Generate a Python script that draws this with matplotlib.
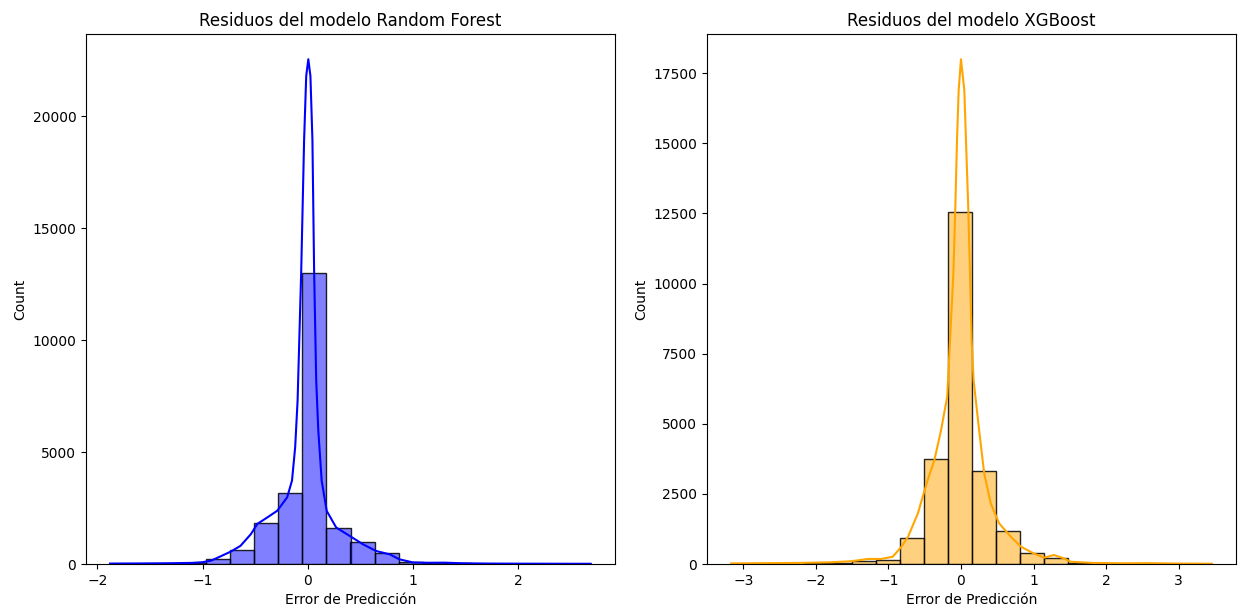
import matplotlib
matplotlib.use("Agg")
import matplotlib.pyplot as plt
from matplotlib.colors import to_rgba

# Random Forest residuals: bin edges and counts
rf_edges = [-1.880, -1.651, -1.423, -1.194, -0.966, -0.737, -0.508, -0.280,
            -0.051, 0.177, 0.406, 0.635, 0.863, 1.092, 1.320, 1.549, 1.778,
            2.006, 2.235, 2.463, 2.692]
rf_counts = [5, 10, 15, 40, 205, 630, 1850, 3170, 13020, 1630, 970, 510,
             110, 60, 35, 20, 10, 8, 5, 3]
# KDE curve (count scale)
rf_kde_x = [-1.88, -1.6, -1.3, -1.1, -1.0, -0.92, -0.83, -0.73, -0.64, -0.54,
            -0.48, -0.385, -0.29, -0.196, -0.15, -0.12, -0.097, -0.063, -0.035,
            -0.015, 0.005, 0.025, 0.044, 0.06, 0.08, 0.10, 0.132, 0.18, 0.27,
            0.40, 0.525, 0.65, 0.78, 0.87, 1.0, 1.15, 1.3, 1.45, 1.7, 2.0,
            2.3, 2.69]
rf_kde_y = [20, 25, 35, 50, 80, 150, 340, 560, 810, 1340, 1790, 2080, 2380,
            2980, 3730, 5220, 7300, 13000, 18950, 21800, 22550, 21800, 18950,
            13130, 8200, 5960, 3720, 2370, 1630, 1250, 880, 580, 430, 210, 70,
            55, 60, 35, 20, 15, 12, 10]

# XGBoost residuals
xgb_edges = [-3.160, -2.829, -2.498, -2.167, -1.836, -1.505, -1.174, -0.843,
             -0.512, -0.181, 0.150, 0.481, 0.812, 1.143, 1.474, 1.805, 2.136,
             2.467, 2.798, 3.129, 3.460]
xgb_counts = [3, 5, 8, 20, 40, 120, 150, 915, 3730, 12550, 3310, 1180, 400,
              200, 40, 15, 10, 8, 5, 3]
xgb_kde_x = [-3.17, -2.7, -2.2, -1.8, -1.51, -1.28, -1.10, -0.94, -0.82, -0.73,
             -0.595, -0.46, -0.367, -0.275, -0.19, -0.151, -0.105, -0.078,
             -0.055, -0.032, 0.0, 0.046, 0.069, 0.1, 0.124, 0.147, 0.174, 0.25,
             0.32, 0.41, 0.526, 0.687, 0.825, 1.0, 1.145, 1.28, 1.42, 1.51,
             1.8, 2.2, 2.6, 3.0, 3.46]
xgb_kde_y = [20, 30, 40, 60, 100, 180, 180, 260, 620, 970, 1800, 2990, 3700,
             4770, 5960, 7980, 10360, 12730, 15100, 16890, 18000, 16890, 15100,
             12730, 10360, 7980, 6550, 4770, 3230, 2160, 1450, 970, 620, 380,
             225, 320, 200, 80, 40, 25, 30, 15, 10]

fig = plt.figure(figsize=(12.39, 6.10), dpi=100)
W, H = 1239, 610
ax1 = fig.add_axes([86 / W, (H - 564) / H, (615 - 86) / W, (564 - 34) / H])
ax2 = fig.add_axes([707 / W, (H - 564) / H, (1236 - 707) / W, (564 - 34) / H])


def resid_hist(ax, edges, counts, kx, ky, color, title):
    # histograma con relleno semitransparente y borde oscuro
    ax.hist(edges[:-1], bins=edges, weights=counts,
            facecolor=to_rgba(color, 0.5), edgecolor=(0, 0, 0, 0.85),
            linewidth=1.0)
    ax.plot(kx, ky, color=color, linewidth=1.5)
    ax.set_title(title, fontsize=12)
    ax.set_xlabel("Error de Predicción")
    ax.set_ylabel("Count")


resid_hist(ax1, rf_edges, rf_counts, rf_kde_x, rf_kde_y, "blue",
           "Residuos del modelo Random Forest")
resid_hist(ax2, xgb_edges, xgb_counts, xgb_kde_x, xgb_kde_y, "orange",
           "Residuos del modelo XGBoost")

fig.savefig("out.png", dpi=100)
